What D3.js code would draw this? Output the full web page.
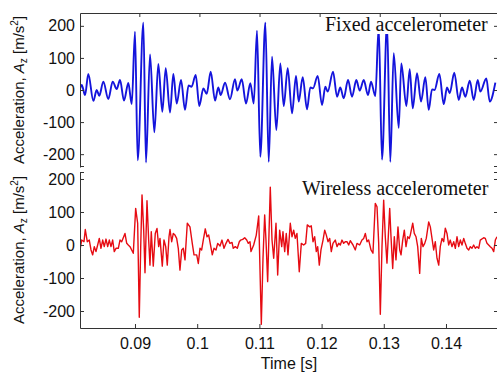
<!DOCTYPE html>
<html><head><meta charset="utf-8">
<script src="https://cdn.jsdelivr.net/npm/d3@7"></script>
<style>body{margin:0;background:#fff;} svg{display:block;}</style>
</head><body><svg id="c" width="497" height="374"></svg>
<script>
// ---------- data ----------
const fixedTime = [
0.08013,0.08042,0.08097,0.08151,0.08235,0.08291,0.08334,0.08401,0.08484,0.08557,
0.08624,0.08679,0.08745,0.08817,0.08874,0.08928,0.08973,0.09067,0.09111,0.09178,
0.0925,0.09316,0.09383,0.09439,0.09511,0.09566,0.09622,0.09694,0.0976,0.09819,
0.09869,0.09938,0.09998,0.10065,0.10121,0.10188,0.1026,0.10314,0.10354,0.10426,
0.10509,0.10592,0.10631,0.10704,0.10775,0.10847,0.10904,0.10958,0.11013,0.11097,
0.11153,0.11208,0.1128,0.11346,0.11403,0.11469,0.11541,0.11607,0.11652,0.11719,
0.1179,0.11845,0.1189,0.11968,0.1204,0.12095,0.12135,0.12223,0.1229,0.12344,
0.12401,0.12473,0.12539,0.12611,0.12667,0.12734,0.12805,0.12855,0.12927,0.12983,
0.13038,0.13122,0.13176,0.13233,0.13316,0.13359,0.13443,0.13499,0.13549,0.13621,
0.13687,0.13759,0.13815,0.1387,0.13912,0.13992,0.14065,0.1412,0.14165,0.14241,
0.14315,0.14369,0.14424,0.14498,0.14564,0.14631,0.14674,0.14774,0.1483,0.14924];
const fixedAccel = [
2,16,-16,50,-34,0,-18,26,-28,26,
3,31,-33,22,-44,182,-219,210,-226,111,
-132,81,-68,68,-70,50,-42,31,-62,14,
10,47,-50,5,-12,57,-33,8,-16,23,
-29,34,-2,34,-42,21,-42,185,-208,210,
-224,104,-125,83,-50,68,-73,44,-36,40,
-60,8,5,44,-47,10,-5,57,-21,8,
-26,31,-21,31,-2,31,-16,26,-19,198,
-217,208,-224,115,-118,83,-50,65,-57,52,
-36,40,-62,2,0,50,-44,8,-10,54,
-31,8,-21,29,-31,31,-5,36,-36,23];

const wirelessTime = [
0.08116,0.08143,0.08180,0.08201,0.08233,0.08265,0.08293,0.08320,0.08346,0.08373,
0.08400,0.08426,0.08453,0.08481,0.08506,0.08534,0.08561,0.08587,0.08614,0.08641,
0.08667,0.08695,0.08732,0.08759,0.08786,0.08812,0.08839,0.08867,0.08892,0.08920,
0.08947,0.08973,0.09011,0.09043,0.09069,0.09092,0.09113,0.09140,0.09161,0.09193,
0.09220,0.09241,0.09262,0.09294,0.09326,0.09354,0.09381,0.09402,0.09439,0.09466,
0.09494,0.09519,0.09547,0.09563,0.09590,0.09616,0.09643,0.09670,0.09696,0.09723,
0.09751,0.09777,0.09804,0.09841,0.09884,0.09921,0.09949,0.09992,0.10018,0.10045,
0.10072,0.10098,0.10130,0.10158,0.10185,0.10217,0.10243,0.10270,0.10302,0.10330,
0.10367,0.10399,0.10431,0.10463,0.10495,0.10527,0.10560,0.10580,0.10613,0.10645,
0.10677,0.10699,0.10732,0.10764,0.10796,0.10822,0.10849,0.10865,0.10908,0.10950,
0.10989,0.11031,0.11058,0.11085,0.11106,0.11133,0.11175,0.11203,0.11230,0.11267,
0.11294,0.11326,0.11359,0.11379,0.11407,0.11432,0.11460,0.11497,0.11524,0.11551,
0.11577,0.11604,0.11641,0.11674,0.11712,0.11744,0.11770,0.11809,0.11834,0.11862,
0.11889,0.11915,0.11937,0.11963,0.11990,0.12023,0.12050,0.12076,0.12103,0.12130,
0.12156,0.12183,0.12220,0.12248,0.12275,0.12301,0.12328,0.12355,0.12381,0.12408,
0.12436,0.12461,0.12505,0.12542,0.12569,0.12612,0.12649,0.12677,0.12703,0.12730,
0.12757,0.12794,0.12826,0.12863,0.12891,0.12918,0.12944,0.12971,0.12998,0.13024,
0.13051,0.13095,0.13116,0.13143,0.13169,0.13196,0.13228,0.13256,0.13277,0.13304,
0.13330,0.13357,0.13384,0.13410,0.13426,0.13465,0.13490,0.13518,0.13545,0.13577,
0.13603,0.13630,0.13658,0.13683,0.13722,0.13748,0.13775,0.13802,0.13828,0.13855,
0.13883,0.13908,0.13936,0.13963,0.13989,0.14016,0.14043,0.14069,0.14096,0.14124,
0.14150,0.14177,0.14204,0.14230,0.14257,0.14285,0.14310,0.14338,0.14365,0.14391,
0.14418,0.14445,0.14471,0.14498,0.14526,0.14551,0.14606,0.14632,0.14659,0.14686,
0.14712,0.14740,0.14767,0.14793,0.14820];
const wirelessAccel = [
-15,15,10,47,10,15,-15,-30,-5,-20,
0,20,-10,15,-5,18,-5,15,-5,15,
-20,-10,-10,15,10,22,35,5,0,-5,
-15,-25,111,66,-219,-5,152,45,-84,134,
15,-61,40,-64,35,50,-5,20,-64,15,
-5,-61,25,47,10,35,30,20,-10,-76,
-15,-10,-45,66,55,5,-30,-30,-56,-10,
-15,15,49,25,30,-3,-30,-10,-15,5,
-3,15,-10,5,17,5,8,-10,-5,-10,
10,15,17,22,15,5,10,-20,0,30,
88,-240,-40,91,15,-111,175,15,-40,66,
-91,45,-5,40,-20,35,-30,66,25,45,
20,35,-81,5,0,5,61,55,58,10,
25,-20,-5,-61,-15,15,45,30,10,20,
-20,5,15,-5,5,0,15,5,10,10,
0,13,0,-15,5,0,15,20,35,10,
15,-15,-25,126,116,5,-210,-5,136,25,
-55,111,25,-71,25,-45,55,-15,-30,15,
45,-5,25,20,30,66,35,25,-5,-86,
20,-5,5,20,70,55,20,-15,10,-40,
-61,-5,20,10,51,35,0,15,-5,10,
-10,25,-5,15,0,20,5,-10,-15,-5,
-10,0,-10,-5,-10,15,22,20,5,0,
-5,-10,-20,15,25];

const xTicks = [0.09, 0.10, 0.11, 0.12, 0.13, 0.14];
const xTickLabels = ["0.09", "0.1", "0.11", "0.12", "0.13", "0.14"];
const yTicks = [-200, -100, 0, 100, 200];
const yTickLabels = ["-200", "-100", "0", "100", "200"];
const seriesNames = ["Fixed accelerometer", "Wireless accelerometer"];
const topTimeRange = [0.08013, 0.14968];
const bottomTimeRange = [0.08116, 0.14836];
const topAccelRange = [-240, 240];
const bottomAccelRange = [-251.5, 221.2];

// ---------- drawing ----------
const svg = d3.select("#c");
const L = 80, R = 498;
const AX = "#333";
const tickFont = "'Liberation Sans', Arial, sans-serif";

const panels = [
  {top: 13, bottom: 167, xr: topTimeRange, yr: topAccelRange, t: fixedTime, v: fixedAccel,
   color: "#1414dc", width: 1.9, curve: d3.curveMonotoneX, name: seriesNames[0],
   legX: 325, legY: 31, boxX: 322, boxY: 16, boxH: 18, xLabels: false},
  {top: 172, bottom: 328, xr: bottomTimeRange, yr: bottomAccelRange, t: wirelessTime, v: wirelessAccel,
   color: "#e60b12", width: 1.4, curve: d3.curveLinear, name: seriesNames[1],
   legX: 302, legY: 195, boxX: 299, boxY: 180, boxH: 18, xLabels: true}
];

panels.forEach((p, i) => {
  const x = d3.scaleLinear().domain(p.xr).range([L, R]);
  const y = d3.scaleLinear().domain(p.yr).range([p.bottom, p.top]);
  const g = svg.append("g");

  g.append("rect").attr("x", L).attr("y", p.top).attr("width", R - L).attr("height", p.bottom - p.top).attr("fill", "#fff");

  const cid = "clip" + i;
  svg.append("clipPath").attr("id", cid).append("rect")
    .attr("x", L).attr("y", p.top).attr("width", R - L).attr("height", p.bottom - p.top);

  const data = p.t.map((t, k) => [t, p.v[k]]);
  const line = d3.line().x(d => x(d[0])).y(d => y(d[1])).curve(p.curve);
  g.append("path").datum(data).attr("clip-path", `url(#${cid})`)
    .attr("d", line).attr("fill", "none").attr("stroke", p.color)
    .attr("stroke-width", p.width).attr("stroke-linejoin", "round");

  // legend text box
  g.append("rect").attr("x", p.boxX).attr("y", p.boxY).attr("width", R - p.boxX).attr("height", p.boxH).attr("fill", "#fff");
  g.append("text").attr("x", p.legX).attr("y", p.legY).text(p.name)
    .attr("font-family", "'Liberation Serif', 'Times New Roman', serif").attr("font-size", 20).attr("fill", "#111");

  // left axis
  const yAxis = d3.axisLeft(y).tickValues(yTicks).tickFormat((d, k) => yTickLabels[k])
    .tickSizeInner(-4).tickSizeOuter(0).tickPadding(5);
  const ga = g.append("g").attr("transform", `translate(${L},0)`).call(yAxis);
  ga.select(".domain").attr("stroke", AX);
  ga.selectAll(".tick line").attr("stroke", AX);
  ga.selectAll("text").attr("font-family", tickFont).attr("font-size", 16).attr("fill", "#111");

  // right axis (ticks only)
  const yAxisR = d3.axisRight(y).tickValues(yTicks).tickFormat("").tickSizeInner(-4).tickSizeOuter(0);
  const gr = g.append("g").attr("transform", `translate(${R},0)`).call(yAxisR);
  gr.selectAll("line,path").attr("stroke", AX);

  if (!p.xLabels) {
    const xAxisT = d3.axisTop(x).tickValues(xTicks).tickFormat("").tickSizeInner(-4).tickSizeOuter(0);
    const gt = g.append("g").attr("transform", `translate(0,${p.top})`).call(xAxisT);
    gt.selectAll("line,path").attr("stroke", AX);
    g.append("line").attr("x1", L).attr("x2", L + 4).attr("y1", p.bottom - 0.5).attr("y2", p.bottom - 0.5).attr("stroke", AX);
    g.append("line").attr("x1", R - 4).attr("x2", R).attr("y1", p.bottom - 0.5).attr("y2", p.bottom - 0.5).attr("stroke", AX);
  } else {
    const xAxisB = d3.axisBottom(x).tickValues(xTicks).tickFormat((d, k) => xTickLabels[k])
      .tickSizeInner(-4).tickSizeOuter(0).tickPadding(10);
    const gb = g.append("g").attr("transform", `translate(0,${p.bottom})`).call(xAxisB);
    gb.selectAll("line,path").attr("stroke", AX);
    gb.selectAll("text").attr("font-family", tickFont).attr("font-size", 16).attr("fill", "#111");
    g.append("line").attr("x1", L).attr("x2", L + 4).attr("y1", p.top + 0.5).attr("y2", p.top + 0.5).attr("stroke", AX);
    g.append("line").attr("x1", R - 4).attr("x2", R).attr("y1", p.top + 0.5).attr("y2", p.top + 0.5).attr("stroke", AX);
  }

  // y label
  const yl = svg.append("text")
    .attr("transform", `translate(24,${(p.top + p.bottom) / 2}) rotate(-90)`)
    .attr("text-anchor", "middle").attr("font-family", tickFont).attr("font-size", 15).attr("fill", "#111");
  yl.append("tspan").text("Acceleration,  ");
  yl.append("tspan").attr("font-style", "italic").text("A");
  yl.append("tspan").attr("font-size", 10).attr("dy", 3).text("z");
  yl.append("tspan").attr("dy", -3).text(" [m/s");
  yl.append("tspan").attr("font-size", 10).attr("dy", -6).text("2");
  yl.append("tspan").attr("dy", 6).text("]");
});

svg.append("text").attr("x", 289).attr("y", 369).attr("text-anchor", "middle")
  .attr("font-family", tickFont).attr("font-size", 16).attr("fill", "#111").text("Time [s]");
</script>
</body></html>
